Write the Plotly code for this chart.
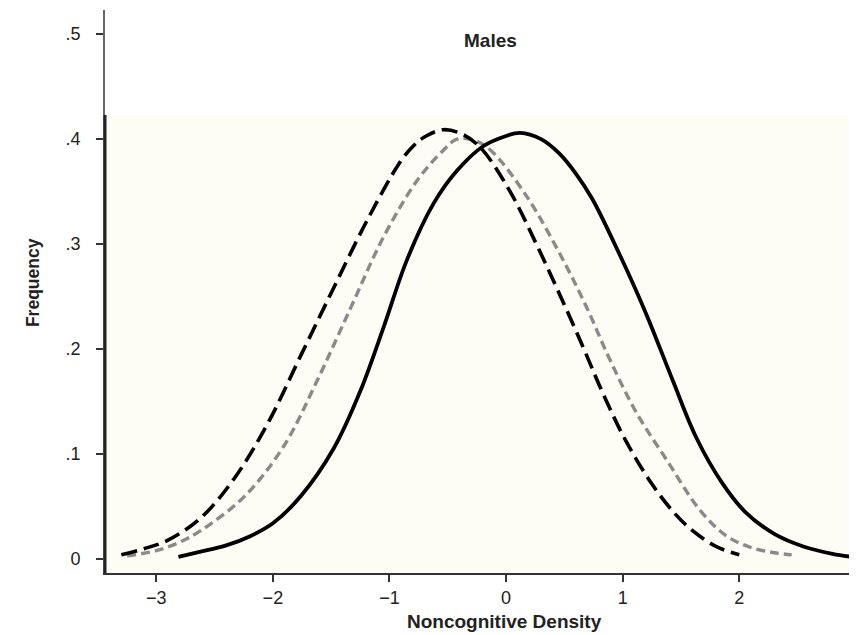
import plotly.graph_objects as go

# Solid black curve
solid_x = [-2.81, -2.62, -2.4, -2.19, -2.0, -1.76, -1.48, -1.25, -1.05, -0.85, -0.62, -0.42, -0.2, 0.0, 0.12, 0.3, 0.46, 0.6, 0.74, 0.97, 1.2, 1.43, 1.63, 1.85, 2.05, 2.3, 2.55, 2.8, 2.97]
solid_y = [0.002, 0.007, 0.013, 0.022, 0.034, 0.060, 0.105, 0.160, 0.221, 0.285, 0.339, 0.370, 0.393, 0.403, 0.406, 0.400, 0.386, 0.367, 0.343, 0.291, 0.234, 0.170, 0.116, 0.073, 0.045, 0.024, 0.012, 0.005, 0.002]

# Long-dashed black curve
longdash_x = [-3.30, -3.1, -2.9, -2.62, -2.33, -2.04, -1.76, -1.48, -1.19, -0.91, -0.8, -0.7, -0.54, -0.38, -0.22, 0.03, 0.26, 0.46, 0.66, 0.83, 1.03, 1.26, 1.45, 1.6, 1.8, 2.0]
longdash_y = [0.004, 0.010, 0.018, 0.039, 0.077, 0.130, 0.194, 0.258, 0.323, 0.378, 0.393, 0.402, 0.409, 0.405, 0.392, 0.351, 0.300, 0.252, 0.202, 0.158, 0.112, 0.070, 0.043, 0.027, 0.012, 0.004]

# Short-dashed gray curve
gray_x = [-3.25, -3.0, -2.8, -2.62, -2.25, -1.91, -1.62, -1.33, -1.05, -0.76, -0.55, -0.42, -0.25, -0.11, 0.18, 0.46, 0.69, 0.89, 1.12, 1.38, 1.66, 1.89, 2.1, 2.3, 2.45]
gray_y = [0.003, 0.008, 0.016, 0.027, 0.059, 0.107, 0.170, 0.240, 0.307, 0.361, 0.388, 0.400, 0.398, 0.387, 0.345, 0.291, 0.240, 0.190, 0.139, 0.094, 0.047, 0.022, 0.011, 0.006, 0.004]

x_ticks = [-3, -2, -1, 0, 1, 2, 3]
y_ticks = [0, 0.1, 0.2, 0.3, 0.4, 0.5]
y_ticklabels = ["0", ".1", ".2", ".3", ".4", ".5"]

FONT = "Liberation Sans, Arial, sans-serif"

fig = go.Figure()
fig.add_trace(go.Scatter(x=gray_x, y=gray_y, mode="lines", line_shape="spline",
                         line=dict(color="#8a8a8a", width=3.4, dash="9px,5px"), showlegend=False))
fig.add_trace(go.Scatter(x=longdash_x, y=longdash_y, mode="lines", line_shape="spline",
                         line=dict(color="black", width=3.6, dash="16px,7px"), showlegend=False))
fig.add_trace(go.Scatter(x=solid_x, y=solid_y, mode="lines", line_shape="spline",
                         line=dict(color="black", width=3.8), showlegend=False))

# faint cream tint of lower panel
fig.add_shape(type="rect", xref="paper", yref="y", x0=0, x1=1, y0=-0.02, y1=0.423,
              fillcolor="#fdfcf5", line=dict(width=0), layer="below")
# darker lower part of the left axis line
fig.add_shape(type="line", xref="paper", yref="y", x0=0, x1=0, y0=-0.0133, y1=0.423,
              line=dict(color="#222", width=3))

fig.add_annotation(x=-0.13, y=0.494, xref="x", yref="y", text="<b>Males</b>", showarrow=False,
                   xanchor="center", yanchor="middle",
                   font=dict(family=FONT, size=19, color="#222"))
fig.add_annotation(x=0.5306, y=-0.087, xref="paper", yref="paper", text="<b>Noncognitive Density</b>",
                   showarrow=False, xanchor="center", yanchor="middle",
                   font=dict(family=FONT, size=19, color="#222"))
fig.add_annotation(x=-0.0957, y=0.515, xref="paper", yref="paper", text="<b>Frequency</b>",
                   showarrow=False, textangle=-90, xanchor="center", yanchor="middle",
                   font=dict(family=FONT, size=17.5, color="#222"))

fig.update_layout(
    width=857, height=635,
    margin=dict(l=97, r=8, t=2, b=70),
    paper_bgcolor="white", plot_bgcolor="white",
    font=dict(family=FONT, size=18, color="#222"),
    xaxis=dict(range=[-3.44, 3.01], tickvals=x_ticks, showgrid=False, zeroline=False, automargin=False,
               showline=True, linecolor="#333", linewidth=2, ticks="outside", ticklen=7,
               tickcolor="#333", tickwidth=1.5, ticklabelstandoff=0),
    yaxis=dict(range=[-0.0133, 0.523], tickvals=y_ticks, ticktext=y_ticklabels, showgrid=False,
               zeroline=False, automargin=False, showline=True, linecolor="#666", linewidth=2,
               ticks="outside", ticklen=7, tickcolor="#333", tickwidth=1.5, ticklabelstandoff=12),
)

fig.write_html("out.html")
